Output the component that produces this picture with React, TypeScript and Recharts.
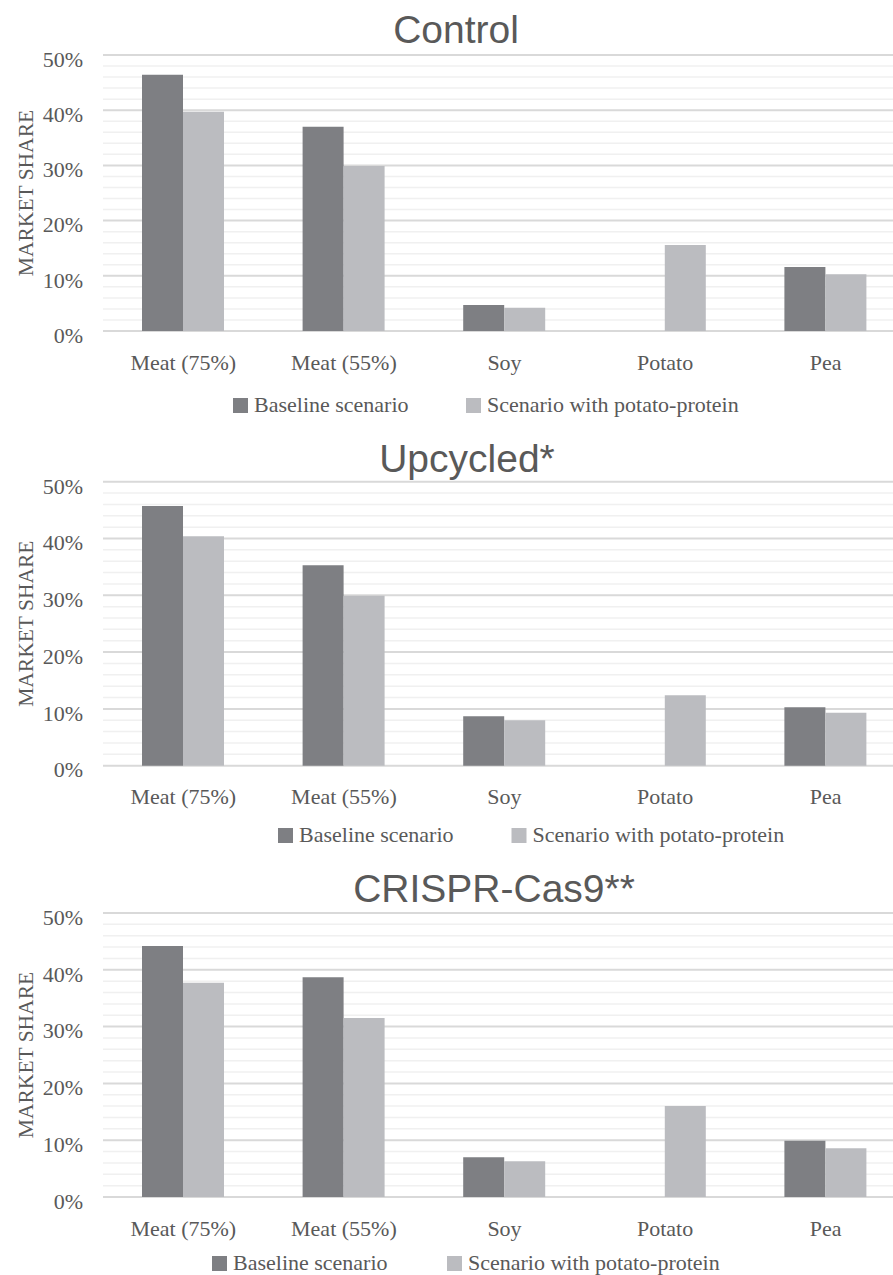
import React from 'react';
import { BarChart, Bar, XAxis, YAxis, CartesianGrid } from 'recharts';

// values (market share, %)
const categories = ['Meat (75%)', 'Meat (55%)', 'Soy', 'Potato', 'Pea'];

const controlBaseline = [46.4, 37.0, 4.7, null, 11.6];
const controlPotato = [39.7, 29.9, 4.2, 15.6, 10.3];

const upcycledBaseline = [45.7, 35.3, 8.7, null, 10.3];
const upcycledPotato = [40.4, 29.9, 8.0, 12.4, 9.3];

const crisprBaseline = [44.2, 38.7, 7.0, null, 9.9];
const crisprPotato = [37.7, 31.5, 6.3, 16.0, 8.6];

const yTicks = [0, 10, 20, 30, 40, 50];
const minorTicks = [2, 4, 6, 8, 12, 14, 16, 18, 22, 24, 26, 28, 32, 34, 36, 38, 42, 44, 46, 48];
const Y_MAX = 50;

const seriesNames = ['Baseline scenario', 'Scenario with potato-protein'];
const panelTitles = ['Control', 'Upcycled*', 'CRISPR-Cas9**'];
const yAxisTitle = 'MARKET SHARE';

const DARK = '#7e7f83';
const LIGHT = '#bbbcc0';
const TEXT = '#595959';
const SERIF = '"Liberation Serif", "Times New Roman", serif';
const SANS = '"Liberation Sans", Arial, sans-serif';

const toRows = (base: (number | null)[], pot: (number | null)[]) =>
  categories.map((name, i) => ({ name, baseline: base[i], potato: pot[i] }));

const panels = [
  { title: panelTitles[0], data: toRows(controlBaseline, controlPotato), top: 0, marginTop: 55, plotH: 276, titleX: 456, titleY: 43, legendY: 412, sq1: 233, sq2: 466 },
  { title: panelTitles[1], data: toRows(upcycledBaseline, upcycledPotato), top: 430, marginTop: 51.7, plotH: 284, titleX: 467, titleY: 471.7, legendY: 842, sq1: 278, sq2: 511.5 },
  { title: panelTitles[2], data: toRows(crisprBaseline, crisprPotato), top: 860, marginTop: 53, plotH: 284, titleX: 494, titleY: 902, legendY: 1270, sq1: 212, sq2: 447 },
];

const CHART_W = 906;
const AXIS_H = 60;

const tickStyle = { fill: TEXT, fontSize: 22, fontFamily: SERIF, style: { fontFamily: SERIF } };

// minor grid lines every 2% of the 0..Y_MAX range
const minorLines = ({ offset }: any) =>
  minorTicks.map((v) => offset.top + offset.height * (1 - v / Y_MAX));

const Panel = ({ p }: { p: typeof panels[number] }) => (
  <div style={{ position: 'absolute', left: 0, top: p.top }}>
    <BarChart
      width={CHART_W}
      height={p.marginTop + p.plotH + AXIS_H}
      data={p.data}
      margin={{ top: p.marginTop, right: 0, left: 0, bottom: 0 }}
      barGap={0}
      style={{ fontFamily: SERIF }}
    >
      <CartesianGrid vertical={false} horizontalCoordinatesGenerator={minorLines} stroke="#f0f0f0" strokeWidth={1.5} />
      <CartesianGrid vertical={false} stroke="#d9d9d9" strokeWidth={2} />
      <XAxis
        dataKey="name"
        axisLine={false}
        tickLine={false}
        tickSize={0}
        tickMargin={23}
        height={AXIS_H}
        interval={0}
        fontFamily={SERIF}
        tick={tickStyle}
      />
      <YAxis
        domain={[0, Y_MAX]}
        ticks={yTicks}
        width={103}
        axisLine={false}
        tickLine={false}
        tickSize={0}
        tickMargin={20}
        fontFamily={SERIF}
        tickFormatter={(v) => `${v}%`}
        tick={{ ...tickStyle, dy: 4 }}
      />
      <Bar dataKey="baseline" name={seriesNames[0]} fill={DARK} barSize={41} isAnimationActive={false} />
      <Bar dataKey="potato" name={seriesNames[1]} fill={LIGHT} barSize={41} isAnimationActive={false} />
    </BarChart>
  </div>
);

export default function App() {
  return (
    <div style={{ position: 'absolute', left: 0, top: 0, width: 893, height: 1275, overflow: 'hidden', background: '#fff', fontFamily: SERIF }}>
      {panels.map((p) => (
        <Panel key={p.title} p={p} />
      ))}
      <svg width={893} height={1275} style={{ position: 'absolute', left: 0, top: 0, pointerEvents: 'none' }}>
        {panels.map((p) => {
          const midY = p.top + p.marginTop + p.plotH / 2;
          return (
            <g key={p.title}>
              <text x={p.titleX} y={p.titleY} textAnchor="middle" fill={TEXT} fontSize={39} fontFamily={SANS}>
                {p.title}
              </text>
              <text
                x={33}
                y={midY}
                transform={`rotate(-90 33 ${midY})`}
                textAnchor="middle"
                fill={TEXT}
                fontSize={21.5}
                fontFamily={SERIF}
              >
                {yAxisTitle}
              </text>
              <rect x={p.sq1} y={p.legendY - 14} width={15} height={15} fill={DARK} />
              <text x={p.sq1 + 21} y={p.legendY} fill={TEXT} fontSize={22} fontFamily={SERIF}>
                {seriesNames[0]}
              </text>
              <rect x={p.sq2} y={p.legendY - 14} width={15} height={15} fill={LIGHT} />
              <text x={p.sq2 + 21} y={p.legendY} fill={TEXT} fontSize={22} fontFamily={SERIF}>
                {seriesNames[1]}
              </text>
            </g>
          );
        })}
      </svg>
    </div>
  );
}
